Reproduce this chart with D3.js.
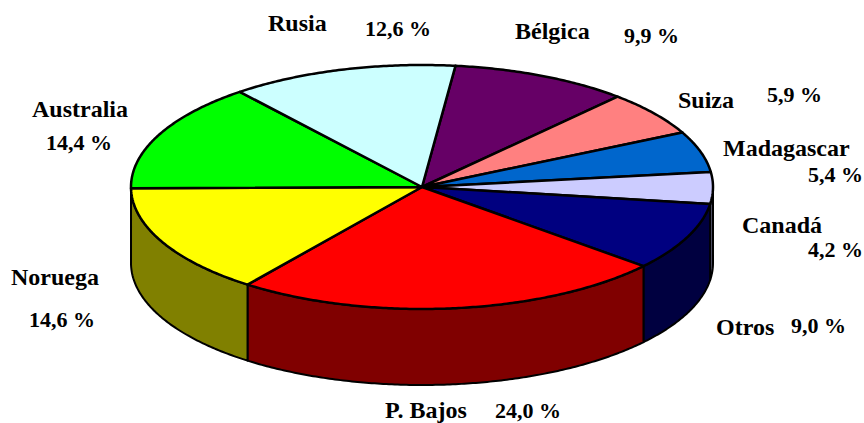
<!DOCTYPE html>
<html>
<head>
<meta charset="utf-8">
<script src="https://d3js.org/d3.v7.min.js"></script>
<style>
html, body { margin: 0; background: #fff; }
svg { display: block; }
text { font-family: "Liberation Serif", serif; font-weight: bold; fill: #000; }
</style>
</head>
<body>
<script>
"use strict";

var width = 864,
    height = 423,
    cx = 422,
    cy = 187,
    rx = 291,
    ry = 122,
    depth = 76,
    startAngle = 6.6 * Math.PI / 180,
    nameSize = 24,
    valueSize = 22;

// clockwise from the top, starting at Belgica
var countries = ["Bélgica", "Suiza", "Madagascar", "Canadá", "Otros", "P. Bajos", "Noruega", "Australia", "Rusia"],
    shares = [9.9, 5.9, 5.4, 4.2, 9.0, 24.0, 14.6, 14.4, 12.6],
    topColours = ["#660066", "#ff8080", "#0066cc", "#ccccff", "#000080", "#ff0000", "#ffff00", "#00ff00", "#ccffff"],
    sideColours = ["#330033", "#804040", "#003366", "#666680", "#000040", "#800000", "#808000", "#008000", "#668080"];

// label text and where it sits: name then value, in turn
var labelTexts = ["Rusia", "12,6 %", "Bélgica", "9,9 %", "Suiza", "5,9 %", "Madagascar", "5,4 %", "Canadá", "4,2 %", "Otros", "9,0 %", "P. Bajos", "24,0 %", "Noruega", "14,6 %", "Australia", "14,4 %"],
    labelX = [268, 365, 515, 624, 678, 767, 723, 808, 742, 808, 716, 791, 385, 495, 11, 29, 32, 46],
    labelY = [31, 36, 39, 43, 108, 102, 156, 182, 233, 257, 335, 333, 418, 418, 285, 327, 117, 150];

var svg = d3.select("body").append("svg")
    .attr("width", width)
    .attr("height", height);

var slices = d3.pie()
    .sort(null)
    .startAngle(startAngle)
    .endAngle(startAngle + 2 * Math.PI)(shares);

var xScale = d3.scaleLinear().domain([-1, 1]).range([cx - rx, cx + rx]),
    yScale = d3.scaleLinear().domain([-1, 1]).range([cy - ry, cy + ry]);

var rimPoints = function(a0, a1, offset) {
    var n = Math.max(2, Math.ceil((a1 - a0) / 0.01)),
        pts = [];
    for (var i = 0; i <= n; i++) {
        var a = a0 + (a1 - a0) * i / n;
        pts.push([xScale(Math.sin(a)), yScale(-Math.cos(a)) + offset]);
    }
    return pts;
};

var line = d3.line();

// walls: only the front half of the rim shows
var sideGroup = svg.append("g")
    .attr("stroke", "#000")
    .attr("stroke-width", 2)
    .attr("stroke-linejoin", "round");

slices.forEach(function(d, i) {
    var a0 = Math.max(d.startAngle, Math.PI / 2),
        a1 = Math.min(d.endAngle, 3 * Math.PI / 2);
    if (a1 <= a0) {
        return;
    }
    var pts = rimPoints(a0, a1, 0).concat(rimPoints(a0, a1, depth).reverse());
    sideGroup.append("path")
        .attr("d", line(pts) + "Z")
        .attr("fill", sideColours[i]);
});

var topGroup = svg.append("g")
    .attr("stroke", "#000")
    .attr("stroke-width", 2.5)
    .attr("stroke-linejoin", "round");

slices.forEach(function(d, i) {
    var pts = [[cx, cy]].concat(rimPoints(d.startAngle, d.endAngle, 0));
    topGroup.append("path")
        .attr("d", line(pts) + "Z")
        .attr("fill", topColours[i]);
});

svg.append("g")
    .selectAll("text")
    .data(labelTexts)
    .enter().append("text")
    .attr("x", function(d, i) { return labelX[i]; })
    .attr("y", function(d, i) { return labelY[i]; })
    .attr("font-size", function(d, i) { return i % 2 ? valueSize : nameSize; })
    .text(function(d) { return d; });
</script>
</body>
</html>
